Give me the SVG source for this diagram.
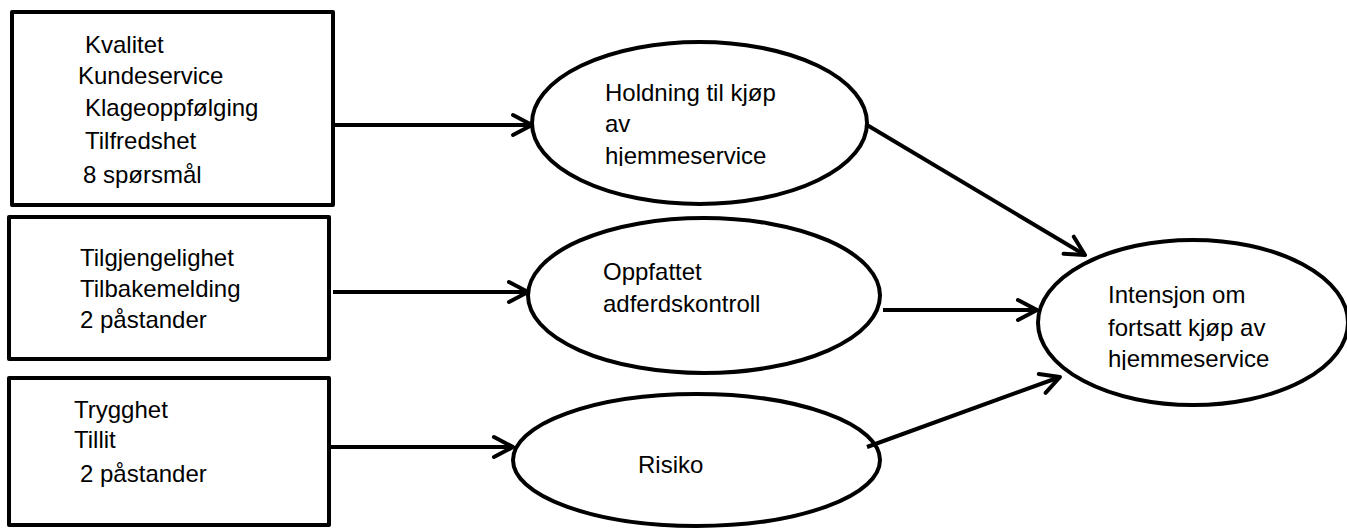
<svg xmlns="http://www.w3.org/2000/svg" width="1347" height="528" viewBox="0 0 1347 528">
<style>
.box{fill:#fff;stroke:#000;stroke-width:4;stroke-linejoin:round}
.ell{fill:#fff;stroke:#000;stroke-width:4}
.t{font-family:"Liberation Sans",Arial,sans-serif;font-size:24px;fill:#000}
.c{fill:none;stroke:#000;stroke-width:4;marker-end:url(#arr)}
</style>
<defs>
<marker id="arr" markerUnits="userSpaceOnUse" markerWidth="30" markerHeight="30" viewBox="-25 -15 30 30" refX="0" refY="0" orient="auto" overflow="visible">
<path d="M-19,-10 L0,0 L-19,10" fill="none" stroke="#000" stroke-width="4" stroke-linecap="round" stroke-linejoin="round"/>
</marker>
<clipPath id="clip1"><rect x="530" y="40" width="340" height="126"/></clipPath>
<clipPath id="clip4"><rect x="1036" y="238" width="311" height="132"/></clipPath>
</defs>
<g id="box1">
<rect class="box" x="12" y="12" width="321" height="193"/>
<text class="t" x="85" y="53">Kvalitet</text>
<text class="t" x="78" y="84">Kundeservice</text>
<text class="t" x="85" y="116">Klageoppfølging</text>
<text class="t" x="85" y="149">Tilfredshet</text>
<text class="t" x="83" y="183">8 spørsmål</text>
</g>
<g id="box2">
<rect class="box" x="9" y="217" width="320" height="142"/>
<text class="t" x="80" y="266">Tilgjengelighet</text>
<text class="t" x="80" y="297">Tilbakemelding</text>
<text class="t" x="80" y="328">2 påstander</text>
</g>
<g id="box3">
<rect class="box" x="9" y="378" width="320" height="147"/>
<text class="t" x="74" y="418">Trygghet</text>
<text class="t" x="74" y="448">Tillit</text>
<text class="t" x="80" y="482">2 påstander</text>
</g>
<g id="holdning">
<ellipse class="ell" cx="699.5" cy="123" rx="167.5" ry="81"/>
<g clip-path="url(#clip1)">
<text class="t" x="605" y="101">Holdning til kjøp</text>
<text class="t" x="605" y="132">av</text>
<text class="t" x="605" y="164">hjemmeservice</text>
</g>
</g>
<g id="oppfattet">
<ellipse class="ell" cx="704" cy="295.5" rx="176" ry="77.5"/>
<text class="t" x="603" y="280">Oppfattet</text>
<text class="t" x="603" y="312">adferdskontroll</text>
</g>
<g id="risiko">
<ellipse class="ell" cx="696.5" cy="460" rx="183.5" ry="66"/>
<text class="t" x="638" y="473">Risiko</text>
</g>
<g id="intensjon">
<ellipse class="ell" cx="1193" cy="322.5" rx="155" ry="82.5"/>
<g clip-path="url(#clip4)">
<text class="t" x="1108" y="303">Intensjon om</text>
<text class="t" x="1108" y="336">fortsatt kjøp av</text>
<text class="t" x="1108" y="367">hjemmeservice</text>
</g>
</g>
<g id="connectors">
<path class="c" d="M333,125 L532,125"/>
<path class="c" d="M333,292 L528,292"/>
<path class="c" d="M329,447 L513,447"/>
<path class="c" d="M867,125 L1085,255"/>
<path class="c" d="M883,310 L1037,310"/>
<path class="c" d="M867,447 L1060,377"/>
</g>
</svg>
